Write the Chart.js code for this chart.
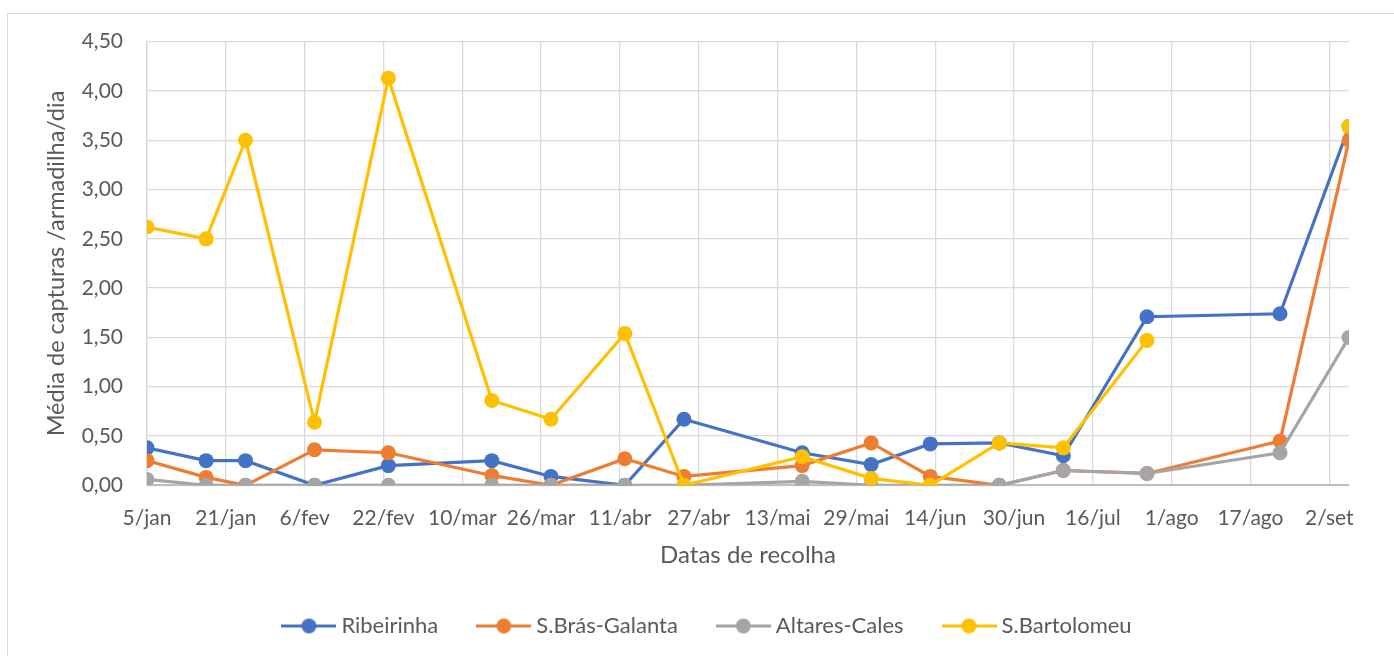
<!DOCTYPE html>
<html>
<head>
<meta charset="utf-8">
<script src="https://cdn.jsdelivr.net/npm/chart.js@4"></script>
<style>
  html, body { margin: 0; padding: 0; background: #fff; }
  #wrap { position: relative; width: 1394px; height: 656px; overflow: hidden; }
  #frame { position: absolute; left: 7px; top: 13px; width: 1390px; height: 660px; border: 1px solid #d9d9d9; box-sizing: border-box; }
  #chart { position: absolute; left: 0; top: 0; }
</style>
</head>
<body>
<div id="wrap">
  <div id="frame"></div>
  <canvas id="chart" width="1394" height="656"></canvas>
</div>
<script>
// collection dates (month-day), year is not a leap year
const datas = ['01-05', '01-17', '01-25', '02-08', '02-23', '03-16', '03-28', '04-12', '04-24',
               '05-18', '06-01', '06-13', '06-27', '07-10', '07-27', '08-23', '09-06'];
const meses = ['jan', 'fev', 'mar', 'abr', 'mai', 'jun', 'jul', 'ago', 'set', 'out', 'nov', 'dez'];

const ribeirinha  = [0.38, 0.25, 0.25, 0, 0.20, 0.25, 0.09, 0, 0.67, 0.33, 0.21, 0.42, 0.43, 0.30, 1.71, 1.74, 3.64];
const sBras       = [0.25, 0.08, 0, 0.36, 0.33, 0.10, 0, 0.27, 0.09, 0.20, 0.43, 0.09, 0, 0.15, 0.12, 0.45, 3.50];
const altares     = [0.06, 0, 0, 0, 0, 0, 0, 0, 0, 0.04, 0, 0, 0, 0.15, 0.12, 0.33, 1.50];
const sBartolomeu = [2.62, 2.50, 3.50, 0.64, 4.13, 0.86, 0.67, 1.54, 0, 0.29, 0.07, 0, 0.43, 0.38, 1.47, null, 3.64];

const DAY = 86400000;
const base = Date.UTC(2021, 0, 5);
const toOffset = s => {
    const [m, d] = s.split('-').map(Number);
    return (Date.UTC(2021, m - 1, d) - base) / DAY;
};
const xs = datas.map(toOffset);
const pts = vals => vals.map((v, i) => ({ x: xs[i], y: v }));
const tickStep = 16;
const lastTick = toOffset('09-02');

const series = [
    { label: 'Ribeirinha', data: ribeirinha, color: '#4472C4', order: 4 },
    { label: 'S.Brás-Galanta', data: sBras, color: '#ED7D31', order: 3 },
    { label: 'Altares-Cales', data: altares, color: '#A5A5A5', order: 2 },
    { label: 'S.Bartolomeu', data: sBartolomeu, color: '#FFC000', order: 1 }
];

// legend marker: line with a dot in the middle
function makeMarker(color) {
    const c = document.createElement('canvas');
    c.width = 55; c.height = 17;
    const g = c.getContext('2d');
    g.strokeStyle = color;
    g.lineWidth = 3;
    g.beginPath(); g.moveTo(0, 8.5); g.lineTo(55, 8.5); g.stroke();
    g.fillStyle = color;
    g.beginPath(); g.arc(27.5, 8.5, 7.5, 0, Math.PI * 2); g.fill();
    return c;
}
const markers = series.map(s => makeMarker(s.color));

const txt = '#595959';
const font = 'Lato';

new Chart(document.getElementById('chart'), {
    type: 'line',
    data: {
        datasets: series.map(s => ({
            label: s.label,
            data: pts(s.data),
            borderColor: s.color,
            backgroundColor: s.color,
            borderWidth: 3.2,
            pointRadius: 7.5,
            pointHoverRadius: 7.5,
            pointBorderWidth: 0,
            pointBackgroundColor: s.color,
            tension: 0,
            spanGaps: false,
            order: s.order
        }))
    },
    options: {
        responsive: false,
        animation: false,
        layout: { padding: { left: 25, right: 0, top: 41.7, bottom: 9 } },
        plugins: {
            tooltip: { enabled: false },
            legend: {
                position: 'bottom',
                labels: {
                    usePointStyle: true,
                    pointStyleWidth: 43,
                    padding: 44,
                    color: txt,
                    font: { family: font, size: 22 },
                    sort: (a, b) => a.datasetIndex - b.datasetIndex,
                    generateLabels: chart => Chart.defaults.plugins.legend.labels.generateLabels(chart).map(l => {
                        l.pointStyle = markers[l.datasetIndex];
                        return l;
                    })
                }
            }
        },
        scales: {
            x: {
                type: 'linear',
                min: 0,
                max: toOffset('09-06'),
                ticks: {
                    padding: 20,
                    color: txt,
                    font: { family: font, size: 21 },
                    maxRotation: 0,
                    autoSkip: false,
                    callback: v => {
                        const d = new Date(base + v * DAY);
                        return d.getUTCDate() + '/' + meses[d.getUTCMonth()];
                    }
                },
                afterBuildTicks: s => {
                    const t = [];
                    for (let v = 0; v <= lastTick; v += tickStep) t.push({ value: v });
                    s.ticks = t;
                },
                afterFit: s => { s.height = 85.7; },
                grid: { color: '#d9d9d9', lineWidth: 1.3, drawTicks: false },
                border: { color: '#bfbfbf', width: 2 },
                title: {
                    display: true,
                    text: 'Datas de recolha',
                    color: txt,
                    font: { family: font, size: 24 },
                    padding: { top: 0, bottom: 1.6 }
                }
            },
            y: {
                min: 0,
                max: 4.5,
                ticks: {
                    stepSize: 0.5,
                    padding: 24,
                    color: txt,
                    font: { family: font, size: 21 },
                    callback: v => v.toFixed(2).replace('.', ',')
                },
                afterFit: s => { s.width = 122; },
                grid: { color: '#d9d9d9', lineWidth: 1.3, drawTicks: false },
                border: { color: '#d9d9d9', width: 1.3 },
                title: {
                    display: true,
                    text: 'Média de capturas /armadilha/dia',
                    color: txt,
                    font: { family: font, size: 23.5 },
                    padding: { top: 17.8, bottom: 0 }
                }
            },
            y2: {
                position: 'right',
                display: true,
                grid: { display: false, drawTicks: false },
                border: { display: false },
                ticks: { display: false },
                afterFit: s => { s.width = 45; }
            }
        }
    }
});
</script>
</body>
</html>
